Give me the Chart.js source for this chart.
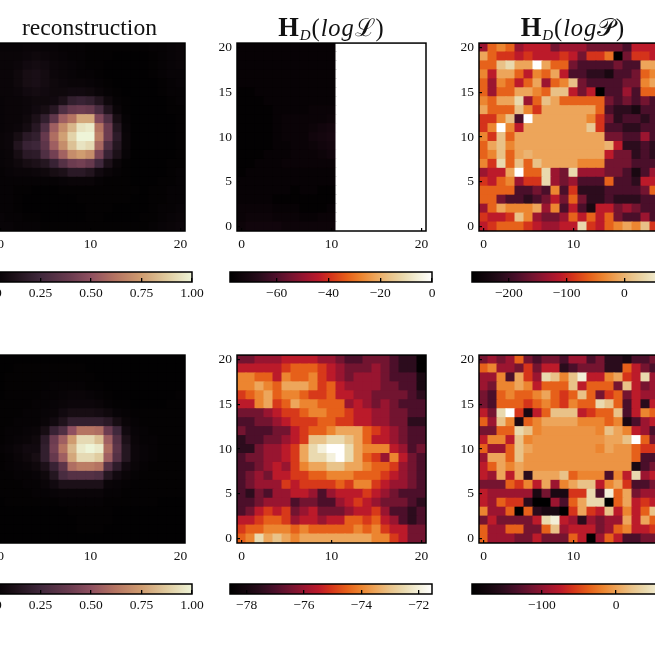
<!DOCTYPE html>
<html><head><meta charset="utf-8">
<script src="https://cdn.jsdelivr.net/npm/chart.js@4"></script>
<style>
html,body{margin:0;padding:0;background:#fff;width:655px;height:655px;overflow:hidden}
#stage{position:absolute;left:0;top:0;width:655px;height:655px;overflow:hidden;background:#fff;filter:blur(0.7px)}
canvas{position:absolute}
.ttl{position:absolute;transform:translateX(-50%);white-space:nowrap;font-family:"Liberation Serif",serif;color:#111;line-height:30px;height:30px}
.ttl sub{font-size:15px;font-style:italic;vertical-align:-4px;line-height:0}
.ttl.m{letter-spacing:.9px}
.ttl b{font-size:1.08em}
</style></head><body><div id="stage"></div>
<script>
// rows run from y=20 (first) down to y=0 (last); columns x=0..20
const reconTop=[
[.04,.04,.04,.05,.05,.04,.04,.03,.03,.03,.02,.02,.02,.02,.02,.02,.02,.03,.03,.04,.05],
[.05,.05,.05,.06,.07,.06,.05,.04,.03,.03,.02,.02,.02,.01,.01,.01,.01,.02,.03,.04,.05],
[.05,.05,.06,.08,.09,.08,.06,.05,.04,.03,.02,.02,.01,.01,.01,.01,.01,.02,.03,.04,.05],
[.05,.05,.07,.10,.11,.09,.06,.05,.04,.03,.03,.02,.01,.01,.01,.01,.01,.02,.03,.04,.04],
[.05,.05,.07,.10,.11,.09,.07,.06,.05,.05,.04,.03,.02,.01,.01,.01,.01,.01,.02,.03,.04],
[.05,.05,.06,.08,.09,.08,.07,.07,.08,.08,.07,.05,.03,.02,.01,.01,.01,.01,.02,.03,.03],
[.04,.05,.05,.06,.07,.07,.08,.12,.20,.22,.20,.14,.07,.03,.02,.01,.01,.01,.01,.02,.03],
[.04,.05,.05,.06,.08,.10,.16,.30,.38,.40,.38,.28,.14,.05,.02,.01,.01,.01,.01,.02,.02],
[.04,.05,.05,.07,.12,.20,.36,.55,.62,.78,.78,.46,.30,.10,.03,.01,.01,.01,.01,.01,.02],
[.04,.05,.06,.09,.16,.30,.55,.70,.82,.95,.97,.62,.40,.15,.04,.01,.01,.01,.01,.01,.02],
[.05,.06,.10,.17,.20,.38,.60,.76,.90,1,1,.66,.40,.18,.05,.01,.01,.01,.01,.01,.02],
[.05,.06,.14,.22,.24,.35,.55,.70,.85,.95,.92,.58,.30,.15,.05,.01,.01,.01,.01,.01,.02],
[.04,.05,.10,.17,.18,.30,.42,.56,.70,.75,.70,.44,.22,.12,.04,.01,.01,.01,.01,.01,.02],
[.04,.05,.07,.10,.12,.15,.22,.32,.40,.42,.38,.25,.12,.05,.02,.01,.01,.01,.01,.02,.02],
[.03,.04,.05,.05,.06,.07,.10,.12,.17,.17,.14,.08,.05,.03,.02,.01,.01,.01,.01,.02,.03],
[.03,.03,.03,.03,.03,.03,.03,.04,.05,.05,.05,.03,.02,.02,.02,.01,.01,.01,.02,.02,.03],
[.03,.03,.02,.02,.01,.01,.01,.02,.02,.02,.02,.02,.02,.02,.02,.02,.01,.02,.02,.03,.03],
[.03,.03,.02,.01,.01,.01,.01,.01,.01,.02,.02,.02,.02,.02,.02,.01,.01,.02,.02,.03,.03],
[.03,.03,.02,.01,.01,.01,.01,.01,.01,.01,.02,.02,.02,.01,.01,.01,.01,.02,.03,.03,.04],
[.04,.03,.03,.02,.02,.01,.01,.01,.01,.01,.02,.02,.01,.01,.01,.01,.02,.02,.03,.04,.05],
[.04,.04,.03,.03,.03,.02,.02,.02,.02,.02,.02,.02,.02,.02,.02,.02,.02,.03,.04,.05,.06]];
const logLTop=[
[-76,-76,-76,-76,-76,-76,-76,-76,-76,-76,-76,0,0,0,0,0,0,0,0,0,0],
[-76,-76,-76,-76,-76,-76,-76,-76,-76,-76,-76,0,0,0,0,0,0,0,0,0,0],
[-76,-76,-76,-76,-76,-76,-76,-76,-76,-76,-76,0,0,0,0,0,0,0,0,0,0],
[-76,-76,-76,-76,-76,-76,-76,-76,-76,-76,-76,0,0,0,0,0,0,0,0,0,0],
[-76,-76,-76,-76,-76,-76,-76,-76,-76,-76,-76,0,0,0,0,0,0,0,0,0,0],
[-77,-77,-76,-76,-76,-76,-76,-76,-76,-76,-76,0,0,0,0,0,0,0,0,0,0],
[-77,-77,-77,-76,-76,-76,-76,-76,-76,-76,-76,0,0,0,0,0,0,0,0,0,0],
[-77,-77,-77,-77,-76,-76,-76,-76,-75,-75,-75,0,0,0,0,0,0,0,0,0,0],
[-77,-77,-77,-77,-76,-75,-75,-75,-75,-75,-74,0,0,0,0,0,0,0,0,0,0],
[-77,-77,-77,-77,-76,-75,-75,-75,-74,-73,-72,0,0,0,0,0,0,0,0,0,0],
[-77,-77,-77,-77,-76,-75,-75,-75,-73,-72,-71,0,0,0,0,0,0,0,0,0,0],
[-77,-77,-77,-77,-76,-76,-75,-75,-74,-73,-72,0,0,0,0,0,0,0,0,0,0],
[-77,-77,-77,-76,-76,-76,-75,-75,-75,-74,-73,0,0,0,0,0,0,0,0,0,0],
[-77,-77,-76,-76,-76,-75,-75,-75,-75,-75,-75,0,0,0,0,0,0,0,0,0,0],
[-77,-76,-76,-76,-76,-76,-76,-76,-76,-76,-76,0,0,0,0,0,0,0,0,0,0],
[-76,-76,-76,-76,-76,-76,-76,-76,-76,-76,-76,0,0,0,0,0,0,0,0,0,0],
[-76,-76,-76,-76,-76,-76,-77,-76,-76,-77,-77,0,0,0,0,0,0,0,0,0,0],
[-76,-76,-76,-76,-77,-77,-77,-77,-77,-77,-77,0,0,0,0,0,0,0,0,0,0],
[-75,-75,-75,-75,-76,-76,-76,-77,-77,-77,-76,0,0,0,0,0,0,0,0,0,0],
[-75,-74,-74,-74,-75,-75,-75,-76,-76,-75,-75,0,0,0,0,0,0,0,0,0,0],
[-74,-73,-73,-73,-73,-74,-74,-74,-74,-74,-74,0,0,0,0,0,0,0,0,0,0]];
const logPTop=[
[-134,-60,-36,-60,-134,-110,-110,-110,-160,-134,-134,-134,-160,-160,-160,-160,-187,-110,-110,-110,-110],
[-12,-60,-90,-90,-110,-90,-110,-110,-110,-90,-110,-160,-90,-90,-50,-264,-160,-90,-90,-110,-110],
[-60,-60,12,37,-12,-12,86,-12,-60,-60,-160,-187,-187,-187,-187,-160,-187,-187,-12,-12,-12],
[-36,-110,-12,-12,-60,-110,-36,-60,-12,-110,-187,-187,-210,-210,-230,-187,-187,-160,-60,-36,-36],
[-60,-134,-36,-60,-110,-60,-12,-134,-60,-36,12,-160,-187,-187,-187,-187,-160,-160,-36,-12,-12],
[-60,-134,-60,-60,-12,-12,-36,-60,12,12,-110,-160,-110,-264,-187,-187,-134,-187,-60,-60,-60],
[-36,-60,-12,-12,37,-134,-60,12,-12,-60,-60,-60,-60,-60,-160,-187,-160,-187,-160,-187,-187],
[-12,-60,-60,-60,12,-36,-90,-12,-12,-12,-12,-12,-12,-60,-187,-210,-210,-230,-187,-187,-187],
[-90,-90,-36,12,-187,86,-12,-12,-12,-12,-12,-12,-36,-90,-160,-210,-187,-187,-210,-187,-187],
[-90,-36,86,-36,-110,-12,-12,-12,-12,-12,-12,-12,20,-90,-187,-187,-210,-210,-187,-187,-187],
[-36,-90,12,-60,-12,-12,-12,-12,-12,-12,-12,-12,-12,-12,-160,-160,-187,-187,-134,-187,-187],
[-60,-12,12,-36,-12,-12,-12,-12,-12,-12,-12,-12,-12,-12,0,-110,-210,-210,-187,-210,-210],
[-60,-36,12,-60,-12,0,-12,-12,-12,-12,-12,-12,-12,-12,-110,-160,-160,-210,-187,-210,-210],
[-36,-90,37,-60,12,-60,12,-12,-12,-12,-12,-36,-36,-36,-160,-160,-160,-187,-187,-187,-187],
[-134,-110,-110,-12,86,-60,-60,37,-134,-160,37,-134,-134,-134,-160,-160,-187,-230,-187,-134,-134],
[-90,-110,-60,-36,-134,-90,-90,37,-134,-160,-134,-187,-187,-187,-60,-187,-187,-210,-110,-110,-110],
[-60,-60,-60,-60,-187,-187,-160,-187,-36,-187,-90,-210,-210,-210,-187,-187,-187,-187,-160,-60,-60],
[-60,-60,-160,-187,-187,-210,-187,-160,-110,-160,-60,-160,-210,-210,-187,-210,-210,-210,-187,-187,-187],
[-134,-60,-12,-36,-36,-36,-12,-134,-36,-187,-110,-187,-230,-110,-110,-160,-134,-160,-187,-187,-187],
[-90,-110,-110,-90,12,-36,-134,-160,-160,-134,-60,-110,-60,-110,-60,-160,-187,-187,-134,-187,-187],
[-110,-90,-60,-60,-60,-90,-110,-134,-134,-110,-110,37,-90,-110,-60,-36,-12,-36,12,-90,-90]];
const reconBottom=[
[.01,.01,.01,.01,.01,.01,.01,.01,.01,.01,.01,.01,.01,.01,.01,.01,.01,.01,.01,.01,.01],
[.01,.01,.02,.02,.02,.02,.02,.02,.02,.02,.01,.01,.01,.01,.01,.01,.01,.01,.01,.01,.01],
[.01,.02,.02,.02,.02,.02,.02,.02,.02,.02,.02,.01,.01,.01,.01,.01,.01,.01,.01,.01,.01],
[.01,.02,.02,.02,.02,.02,.03,.03,.03,.03,.02,.02,.01,.01,.01,.01,.01,.01,.01,.01,.01],
[.01,.02,.02,.02,.02,.03,.03,.04,.05,.05,.04,.03,.02,.01,.01,.01,.01,.01,.01,.01,.02],
[.02,.02,.02,.02,.03,.03,.04,.05,.06,.06,.06,.05,.03,.02,.02,.01,.01,.01,.01,.02,.02],
[.02,.02,.02,.03,.03,.04,.05,.08,.10,.10,.10,.09,.07,.04,.03,.02,.02,.02,.02,.02,.02],
[.02,.02,.03,.03,.03,.05,.08,.13,.20,.20,.20,.20,.17,.10,.05,.03,.02,.02,.02,.02,.02],
[.02,.03,.03,.04,.05,.10,.22,.30,.50,.62,.62,.60,.40,.25,.08,.04,.03,.02,.02,.02,.02],
[.02,.03,.04,.05,.07,.18,.40,.55,.75,.92,.92,.85,.55,.32,.12,.05,.03,.03,.02,.02,.02],
[.03,.04,.06,.08,.08,.20,.42,.62,.82,.97,1,.97,.60,.35,.15,.06,.04,.03,.02,.02,.02],
[.02,.03,.05,.07,.10,.20,.38,.55,.78,.92,.92,.88,.55,.32,.15,.06,.04,.03,.02,.02,.02],
[.02,.03,.04,.05,.07,.12,.22,.35,.60,.65,.65,.62,.32,.18,.08,.05,.03,.02,.02,.02,.02],
[.02,.02,.03,.03,.04,.07,.15,.28,.32,.32,.32,.30,.15,.08,.05,.03,.02,.02,.02,.02,.02],
[.02,.02,.02,.03,.03,.05,.08,.12,.12,.12,.12,.12,.05,.04,.03,.02,.02,.02,.02,.02,.02],
[.02,.02,.02,.02,.03,.03,.04,.05,.05,.05,.05,.05,.03,.03,.02,.02,.02,.02,.02,.02,.02],
[.01,.02,.02,.02,.02,.02,.02,.03,.03,.03,.03,.03,.02,.02,.02,.02,.02,.02,.01,.01,.01],
[.01,.01,.01,.01,.01,.01,.01,.01,.02,.02,.02,.02,.02,.01,.01,.01,.01,.01,.01,.01,.01],
[.01,.01,.01,.01,.01,.01,.01,.01,.01,.02,.02,.02,.02,.01,.01,.01,.01,.01,.01,.01,.01],
[.01,.01,.01,.01,.01,.01,.01,.01,.01,.02,.02,.02,.01,.01,.01,.01,.01,.01,.01,.01,.01],
[.01,.01,.01,.01,.01,.01,.01,.01,.01,.01,.01,.01,.01,.01,.01,.01,.01,.01,.01,.01,.01]];
const logLBottom=[
[-76.5,-76.5,-76,-76,-76,-75.5,-75.5,-75.5,-75.5,-76,-76,-76.5,-77,-77,-76.5,-76.5,-76.5,-77,-77.5,-77.5,-78.5],
[-75.5,-75.5,-75.5,-75.5,-75.5,-75,-74.5,-74.5,-74.5,-75,-75.5,-76,-76.5,-76.5,-76.5,-76,-76.5,-77,-77.5,-77.5,-78.5],
[-74,-74,-74.5,-74.5,-75.5,-74,-74.5,-74.5,-74,-75,-75.5,-76,-76.5,-76,-76,-76,-76.5,-77,-77,-77,-77.9],
[-74,-74,-73.5,-74,-74.5,-73.5,-73.5,-73.5,-74,-75,-74.5,-75.5,-76,-76,-76,-76,-76.5,-76.5,-77,-77,-77.9],
[-75,-74.5,-74,-73.5,-74.5,-74,-74,-74.5,-75,-75,-74.5,-75.5,-75.5,-76,-76,-76.5,-76.5,-76.5,-76.5,-77,-77.5],
[-75.5,-75.5,-74,-73.5,-75,-74.5,-73.5,-74,-74,-74.5,-74.5,-74.5,-76,-75.5,-76,-76.5,-76,-76.5,-77,-77,-77],
[-76.5,-76.5,-76.5,-76,-75.5,-75,-75,-74.5,-74,-74,-74.5,-74.5,-75,-75.5,-75.5,-76,-76,-76.5,-76.5,-77,-77],
[-77,-77,-76.5,-76.5,-76,-75.5,-75,-75,-75,-74.5,-74.5,-75,-75,-75.5,-75.5,-76,-76,-76.5,-76.5,-77.5,-77.5],
[-76.5,-77,-77,-77,-76.5,-76.5,-75.5,-75,-74.5,-74.5,-74,-73.5,-73.5,-73.5,-74.5,-75,-75.5,-76,-76.5,-77,-77],
[-77.5,-77,-77,-76.5,-76.5,-76,-75.5,-75,-73,-73,-72.5,-72.5,-73,-73.5,-74.5,-75.5,-75.5,-76,-76.5,-77,-77],
[-77.5,-77.5,-76.5,-76,-76,-75.5,-75,-73.5,-72.5,-72,-71.5,-71.5,-72.5,-73.5,-74,-74,-74,-75.5,-76,-77,-76.5],
[-77,-76.5,-76.5,-76,-76,-75.5,-75,-73.5,-72.5,-72.5,-72,-71.5,-72.5,-73.5,-74.5,-75,-76,-74,-75.5,-76.5,-77],
[-77,-77,-76.5,-76,-75.5,-76,-75,-74,-73.5,-73.5,-73,-73,-73.5,-73.5,-74,-74.5,-74.5,-75,-76,-76.5,-77],
[-77,-76.5,-76,-76.5,-75.5,-75.5,-75,-75,-74.5,-74.5,-74,-74,-74,-74.5,-74.5,-74.5,-75,-75.5,-76,-76.5,-77],
[-77,-76.5,-76,-76,-76,-75,-75.5,-75,-75,-75,-75,-74.5,-75,-74,-74,-75,-75.5,-76,-76,-76.5,-77],
[-77,-77.5,-76.5,-77,-76,-76,-75.5,-75.5,-76,-77,-76,-75.5,-75.5,-75.5,-75,-75.5,-76,-76.5,-77,-77,-77],
[-77,-77,-76.5,-76,-76,-76,-77,-76.5,-76.5,-77,-77,-76,-75.5,-75,-75.5,-76,-76.5,-76.5,-76.5,-77,-77.5],
[-77,-76.5,-75.5,-75,-75.5,-75,-76.5,-76,-75.5,-76.5,-76.5,-76.5,-76,-75.5,-75.5,-75,-76,-77,-77,-77.5,-77],
[-75.5,-75.5,-75,-74.5,-74.5,-75,-76,-75.5,-75.5,-76,-75.5,-75.5,-74.5,-74.5,-75,-74.5,-75.5,-76,-77,-77.5,-77],
[-75,-74.5,-74.5,-74,-74,-74,-74.5,-74,-74.5,-74.5,-74.5,-74.5,-74.5,-74,-74.5,-74,-75,-75.5,-75.5,-76.5,-76.5],
[-74.5,-74,-72.5,-73.5,-73,-73.5,-74,-73.5,-73.5,-73.5,-73.5,-73.5,-73.5,-73.5,-73.5,-74,-74,-75,-75.5,-76.5,-76.5]];
const logPBottom=[
[-112,-93,-112,-93,-36,-112,-134,-112,-112,-134,-93,-93,-134,-112,-153,-153,-167,-134,-134,-112,-112],
[-36,-17,-93,-93,-112,-58,-112,-74,-74,-153,-134,-112,-112,-112,-153,-153,-36,-74,-112,-134,-134],
[-93,-93,-17,-134,2,-58,-93,40,21,-17,21,59,-74,-74,-17,2,-58,-74,40,-93,-93],
[-93,-112,-17,-17,2,-17,-74,-36,-36,-36,21,-74,-36,-36,-36,-112,21,-74,-112,-93,-93],
[-112,-134,-36,-17,-36,-36,-17,2,-36,-58,-36,21,-36,-112,-58,-36,-112,-74,-93,-93,-93],
[-112,-134,-36,-36,-36,-58,-36,-17,-36,-58,-17,-36,-36,40,21,-36,-134,-74,-153,-74,-74],
[-74,-112,40,78,-58,-167,-74,-36,21,21,21,-74,-58,-36,-36,21,-134,-74,-17,-36,-36],
[-36,-93,21,-17,-167,-36,-17,2,2,2,2,-17,-17,-17,-36,-17,-167,-134,-93,-74,-74],
[-112,-112,-36,-36,40,21,-17,-8,-8,-8,-8,-8,-8,-17,21,2,-17,-74,-93,-134,-134],
[-74,-17,-17,-74,21,-17,-8,-8,-8,-8,-8,-8,-8,-8,2,2,21,78,-36,-112,-112],
[-36,-93,-93,-36,21,2,-8,-8,-8,-8,-8,-8,-8,-17,2,-8,-8,-36,-58,-58,-58],
[-93,2,2,-36,21,-8,-8,-8,-8,-8,-8,-8,-8,-8,-8,-8,-8,-36,-134,-134,-134],
[-74,-36,2,-17,2,-8,-8,-8,-8,-8,-8,-8,-8,-8,-8,-8,-8,-167,-134,-112,-112],
[-74,-93,2,-74,2,-153,2,2,2,21,-36,-17,-17,-17,-134,-17,-74,40,-93,-74,-74],
[-112,-112,-112,-36,-58,-17,-74,2,-93,-17,2,21,21,-74,-17,2,-58,-134,-134,-112,-112],
[-74,-93,-93,-93,-93,-93,-167,-112,-167,-167,-58,-58,40,-134,59,-36,2,-112,-93,-93,-93],
[-74,-93,-36,-58,-58,-153,-194,-194,-93,-134,-36,2,40,40,-194,-36,2,-74,-58,-74,-74],
[-17,-93,-93,-36,-194,-36,-153,-167,-167,-194,-58,2,-58,-74,21,-74,-17,-74,-36,21,21],
[-112,-74,-112,-112,-112,-112,-74,40,59,-74,-93,-153,-93,-112,-93,-93,2,-74,2,-36,-36],
[-36,-93,-93,-36,-36,-112,-112,-36,21,-93,-74,-74,-74,-112,-93,-36,-17,-74,-74,-58,-58],
[-36,-93,-93,-93,-112,-112,-74,-112,-112,-112,-36,-74,-194,-93,-36,-74,-134,-134,-112,-112,-112]];

const pinkStops=[[0,'#000000'],[.06,'#0c060a'],[.12,'#1c1018'],[.25,'#40283c'],[.4,'#6c3c50'],[.5,'#8f5060'],[.62,'#b57462'],[.75,'#cf9c70'],[.88,'#e0cca0'],[1,'#eef4d8']];
const heatStops=[[0,'#000000'],[.1,'#1a0812'],[.15,'#2a0c1c'],[.22,'#4a0f2a'],[.3,'#741430'],[.37,'#9a1530'],[.44,'#bc1a2a'],[.5,'#d5341a'],[.58,'#e6601a'],[.65,'#ec8530'],[.72,'#eda55a'],[.79,'#e9c288'],[.86,'#e9d9ae'],[.93,'#f3efd8'],[1,'#ffffff']];

const axisTicksX=[0,10,20];
const axisTicksY=[0,5,10,15,20];
const reconBarTicks=[0,.25,.5,.75,1];
const reconBarLabels=['0.00','0.25','0.50','0.75','1.00'];
const logLTopBarTicks=[-60,-40,-20,0];
const logPTopBarTicks=[-200,-100,0,100];
const logLBottomBarTicks=[-78,-76,-74,-72];
const logPBottomBarTicks=[-100,0,100];

const SERIF='"Liberation Serif","Times New Roman",serif';
const stage=document.getElementById('stage');
const framePlugin={id:'frame',afterDraw(c){const a=c.chartArea,x=c.ctx;x.save();x.strokeStyle='#000';x.lineWidth=1.5;x.strokeRect(a.left,a.top,a.right-a.left,a.bottom-a.top);x.restore();}};
function hex(h){return [1,3,5].map(i=>parseInt(h.substr(i,2),16));}
function cmap(stops,t){t=Math.max(0,Math.min(1,t));for(let i=1;i<stops.length;i++){if(t<=stops[i][0]){const [a,ca]=stops[i-1],[b,cb]=stops[i];const f=(t-a)/(b-a),p=hex(ca),q=hex(cb);return 'rgb('+p.map((v,k)=>Math.round(v+(q[k]-v)*f)).join(',')+')';}}return stops[stops.length-1][1];}
function fmt(v){return String(v).replace('-','\u2212');}
function mkCanvas(l,t,w,h){const c=document.createElement('canvas');c.width=w;c.height=h;c.style.cssText='left:'+l+'px;top:'+t+'px;width:'+w+'px;height:'+h+'px';stage.appendChild(c);return c;}
function fixSize(prop,val){return s=>{s[prop]=val;s.paddingLeft=s.paddingRight=s.paddingTop=s.paddingBottom=0;};}

function heatmap(grid,stops,vmin,vmax,left,top){
  const PL=40,PT=6,PB=30,S=189;
  const pts=[],cols=[];
  grid.forEach((row,r)=>row.forEach((v,c)=>{pts.push({x:c,y:20-r});cols.push(cmap(stops,(v-vmin)/(vmax-vmin)));}));
  const cv=mkCanvas(left-PL,top-PT,PL+S+8,PT+S+PB);
  const R=5*Math.SQRT2;
  const common={min:-.5,max:20.5,border:{display:false},
    grid:{display:true,drawOnChartArea:false,drawTicks:true,tickLength:-3,tickColor:'#000',lineWidth:1.2,z:1},
    ticks:{autoSkip:false,maxRotation:0,color:'#111',font:{family:SERIF,size:13.5},padding:8,callback:v=>String(v)}};
  new Chart(cv,{type:'scatter',data:{datasets:[{data:pts,clip:0,pointStyle:'rect',pointRadius:R,pointHoverRadius:R,pointBorderWidth:0,pointBackgroundColor:cols}]},
    options:{responsive:false,animation:false,events:[],devicePixelRatio:1,layout:{padding:{left:0,top:PT,right:8,bottom:0}},
      plugins:{legend:{display:false},tooltip:{enabled:false}},
      scales:{
        x:{...common,type:'linear',afterBuildTicks:s=>{s.ticks=axisTicksX.map(v=>({value:v}));},afterFit:fixSize('height',PB)},
        y:{...common,type:'linear',afterBuildTicks:s=>{s.ticks=axisTicksY.map(v=>({value:v}));},afterFit:fixSize('width',PL)}
      }},plugins:[framePlugin]});
}
function colorbar(stops,vmin,vmax,ticks,labels,left,top){
  const PX=30,PT=4,PB=24,W=202,H=10;
  const cv=mkCanvas(left-PX,top-PT,W+2*PX,PT+H+PB);
  new Chart(cv,{type:'bar',data:{labels:[''],datasets:[{data:[[vmin,vmax]],barPercentage:1,categoryPercentage:1,borderWidth:0,
      backgroundColor:ctx=>{const a=ctx.chart.chartArea;if(!a)return '#000';const g=ctx.chart.ctx.createLinearGradient(a.left,0,a.right,0);stops.forEach(s=>g.addColorStop(s[0],s[1]));return g;}}]},
    options:{indexAxis:'y',responsive:false,animation:false,events:[],devicePixelRatio:1,layout:{padding:{left:PX,right:PX,top:PT,bottom:0}},
      plugins:{legend:{display:false},tooltip:{enabled:false}},
      scales:{
        y:{display:false},
        x:{type:'linear',min:vmin,max:vmax,border:{display:false},afterBuildTicks:s=>{s.ticks=ticks.filter(v=>v>=vmin&&v<=vmax).map(v=>({value:v}));},afterFit:fixSize('height',PB),
          grid:{display:true,drawOnChartArea:false,drawTicks:true,tickLength:-4,tickColor:'#000',lineWidth:1.3,z:1},
          ticks:{autoSkip:false,maxRotation:0,color:'#111',font:{family:SERIF,size:13.5},padding:7.5,callback:v=>labels?labels[ticks.indexOf(v)]:fmt(v)}}
      }},plugins:[framePlugin]});
}
function title(html,cx,cy,size,cls){const d=document.createElement('div');d.className='ttl '+(cls||'');d.style.left=cx+'px';d.style.top=(cy-15)+'px';d.style.fontSize=size+'px';d.innerHTML=html;stage.appendChild(d);}

heatmap(reconTop,pinkStops,0,1,-4,42);
heatmap(logLTop,heatStops,-78,0,237,42);
heatmap(logPTop,heatStops,-264,86,479,42);
heatmap(reconBottom,pinkStops,0,1,-4,354);
heatmap(logLBottom,heatStops,-78.58,-71.54,237,354);
heatmap(logPBottom,heatStops,-194,78,479,354);
colorbar(pinkStops,0,1,reconBarTicks,reconBarLabels,-10,272);
colorbar(heatStops,-78,0,logLTopBarTicks,null,230,272);
colorbar(heatStops,-264,86,logPTopBarTicks,null,472,272);
colorbar(pinkStops,0,1,reconBarTicks,reconBarLabels,-10,584);
colorbar(heatStops,-78.58,-71.54,logLBottomBarTicks,null,230,584);
colorbar(heatStops,-194,78,logPBottomBarTicks,null,472,584);
title('reconstruction',89.5,27,23.6);
title('<b>H</b><sub>D</sub>(<i>log</i>\u2112)',331.5,27,24.5,'m');
title('<b>H</b><sub>D</sub>(<i>log</i>\uD835\uDCAB)',573,27,24.5,'m');
</script></body></html>
